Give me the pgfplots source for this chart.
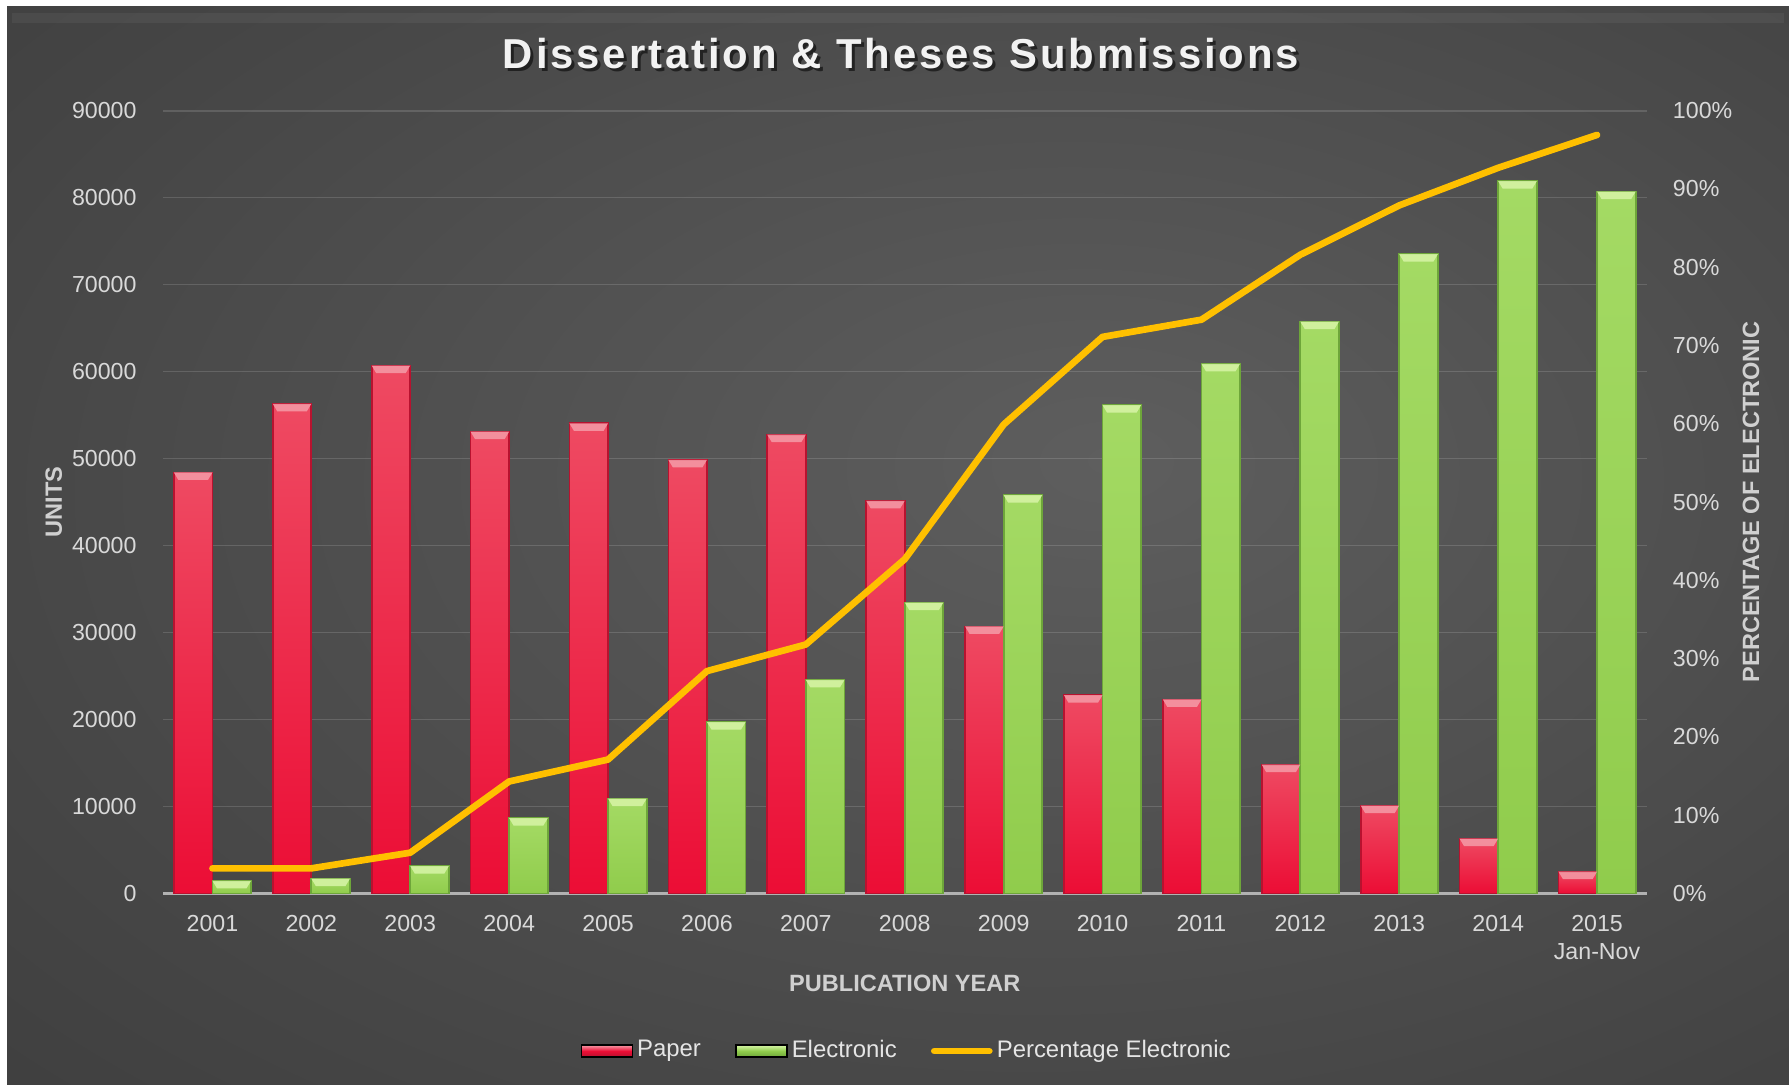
\documentclass[border=0pt]{standalone}
\usepackage{fontspec}
\setmainfont{Liberation Sans}
\newfontfamily\titlefont[LetterSpace=7]{Liberation Sans}
\usepackage{pgfplots}
\usepackage{pgfplotstable}
\pgfplotsset{compat=1.18}

\definecolor{bgin}{HTML}{5E5E5E}
\definecolor{bgmid}{HTML}{464646}
\definecolor{bgout}{HTML}{272727}
\definecolor{txt}{HTML}{D9D9D9}
\definecolor{lbl}{HTML}{D0D0D0}
\definecolor{paperT}{HTML}{EE4A62}
\definecolor{paperB}{HTML}{EC0D35}
\definecolor{paperE}{HTML}{B8122F}
\definecolor{paperCap}{HTML}{F59CA8}
\definecolor{elecT}{HTML}{A4DA64}
\definecolor{elecB}{HTML}{90CC4C}
\definecolor{elecE}{HTML}{6EA63A}
\definecolor{elecCap}{HTML}{D8F5A8}
\definecolor{pct}{HTML}{FFC000}

\pgfdeclareradialshading{bgshade}{\pgfpoint{6bp}{4bp}}{color(0bp)=(bgin); color(30bp)=(bgmid); color(72bp)=(bgout)}

% bevelled bar tops, half a bar width left / right of the category
\pgfdeclareplotmark{capL}{%
  \pgfpathmoveto{\pgfpoint{-0.386cm}{0cm}}%
  \pgfpathlineto{\pgfpoint{0cm}{0cm}}%
  \pgfpathlineto{\pgfpoint{-0.045cm}{-0.075cm}}%
  \pgfpathlineto{\pgfpoint{-0.341cm}{-0.075cm}}%
  \pgfpathclose\pgfusepathqfill}
\pgfdeclareplotmark{capR}{%
  \pgfpathmoveto{\pgfpoint{0cm}{0cm}}%
  \pgfpathlineto{\pgfpoint{0.386cm}{0cm}}%
  \pgfpathlineto{\pgfpoint{0.341cm}{-0.075cm}}%
  \pgfpathlineto{\pgfpoint{0.045cm}{-0.075cm}}%
  \pgfpathclose\pgfusepathqfill}

\pgfplotstableread{
x paper elec pct
0  48400  1450 0.032
1  56300  1700 0.032
2  60700  3150 0.052
3  53100  8650 0.143
4  54050 10900 0.171
5  49850 19700 0.284
6  52750 24550 0.318
7  45150 33450 0.427
8  30700 45800 0.599
9  22800 56150 0.711
10 22300 60900 0.733
11 14800 65750 0.816
12 10100 73500 0.879
13  6300 81900 0.927
14  2500 80700 0.969
}\data

\pgfplotsset{
  common/.style={
    scale only axis, width=14.835cm, height=7.827cm,
    at={(1.63cm,1.916cm)}, anchor=south west,
    xmin=-0.5, xmax=14.5,
    major tick length=0pt,
    /pgf/number format/assume math mode=true,
    ticklabel style={font=\fontsize{6.6}{8}\selectfont, text=txt},
    label style={font=\fontsize{6.7}{8}\selectfont\bfseries, text=lbl},
  },
  paperbar/.style={ybar, bar width=0.39, bar shift=-0.195,
    draw=paperE, line width=0.5pt, top color=paperT, bottom color=paperB},
  elecbar/.style={ybar, bar width=0.39, bar shift=0.195,
    draw=elecE, line width=0.5pt, top color=elecT, bottom color=elecB},
  paperlegend/.style={legend image code/.code={%
    \fill[top color=paperCap, bottom color=paperE, middle color=paperB] (0cm,-0.06cm) rectangle (0.51cm,0.06cm);}},
  eleclegend/.style={legend image code/.code={%
    \fill[top color=elecCap, bottom color=elecE, middle color=elecB] (0cm,-0.06cm) rectangle (0.51cm,0.06cm);}},
  linelegend/.style={legend image code/.code={%
    \draw[##1] (0cm,0cm) -- (0.55cm,0cm);}},
}

\begin{document}
\begin{tikzpicture}
\useasboundingbox (0,0) rectangle (17.89,10.85);
\fill[white] (0,0) rectangle (17.89,10.85);
\shade[shading=bgshade] (0.07,0) rectangle (17.89,10.78);
\fill[white, opacity=0.05] (0.12,10.62) rectangle (17.84,10.72);

\node[text=black, opacity=0.55] at (9.04,10.285)
  {\titlefont\fontsize{11.9}{14}\selectfont\bfseries Dissertation \& Theses Submissions};
\node[text=white!95!black] at (9.01,10.314)
  {\titlefont\fontsize{11.9}{14}\selectfont\bfseries Dissertation \& Theses Submissions};

\begin{axis}[common,
  ymin=0, ymax=90000, ytick={0,10000,...,90000},
  scaled y ticks=false, /pgf/number format/1000 sep={},
  axis x line*=bottom, axis y line*=left,
  x axis line style={draw=white!70!black, line width=0.8pt},
  y axis line style={draw=none},
  ymajorgrids, grid style={white, opacity=0.14, line width=0.45pt},
  xtick={0,...,14},
  xticklabels={2001,2002,2003,2004,2005,2006,2007,2008,2009,2010,2011,2012,2013,2014,{2015\\Jan-Nov}},
  xticklabel style={align=center, yshift=-2.6pt},
  yticklabel style={xshift=-4pt},
  xlabel={PUBLICATION YEAR},
  xlabel style={at={(axis description cs:0.5,-0.115)}, anchor=center},
  ylabel={UNITS},
  ylabel style={at={(axis description cs:-0.0737,0.5)}, anchor=center},
]
% one plot per bar, so that each bar gets its own gradient
\pgfplotsinvokeforeach{0,...,14}{
  \addplot[paperbar, x filter/.expression={abs(x-#1)<0.1 ? x : nan}]
    table[x=x, y=paper]{\data};
  \addplot[elecbar, x filter/.expression={abs(x-#1)<0.1 ? x : nan}]
    table[x=x, y=elec]{\data};
}
\addplot[only marks, mark=capL, mark options={fill=paperCap, draw=none, opacity=0.85}]
  table[x=x, y=paper]{\data};
\addplot[only marks, mark=capR, mark options={fill=elecCap, draw=none, opacity=0.85}]
  table[x=x, y=elec]{\data};
\end{axis}

\begin{axis}[common,
  ymin=0, ymax=1, ytick={0,0.1,...,1.01},
  axis y line*=right, axis x line=none, xtick=\empty,
  y axis line style={draw=none},
  yticklabel={\pgfmathparse{\tick*100}\pgfmathprintnumber[fixed,precision=0]{\pgfmathresult}\%},
  yticklabel style={xshift=4pt, anchor=west},
  ylabel={PERCENTAGE OF ELECTRONIC},
  ylabel style={at={(axis description cs:1.0704,0.5)}, rotate=0, anchor=center},
  legend columns=3,
  legend style={at={(axis description cs:0.502,-0.2014)}, anchor=center,
    draw=none, fill=none, text=white!90!black,
    font=\fontsize{6.8}{8}\selectfont,
    nodes={inner xsep=1.2pt},
    /tikz/every even column/.append style={column sep=0.3cm}},
]
\addlegendimage{paperlegend}
\addlegendentry{Paper}
\addlegendimage{eleclegend}
\addlegendentry{Electronic}
\addplot[pct, line width=1.9pt, line join=round, line cap=round, linelegend]
  table[x=x, y=pct]{\data};
\addlegendentry{Percentage Electronic}
\end{axis}
\end{tikzpicture}
\end{document}
